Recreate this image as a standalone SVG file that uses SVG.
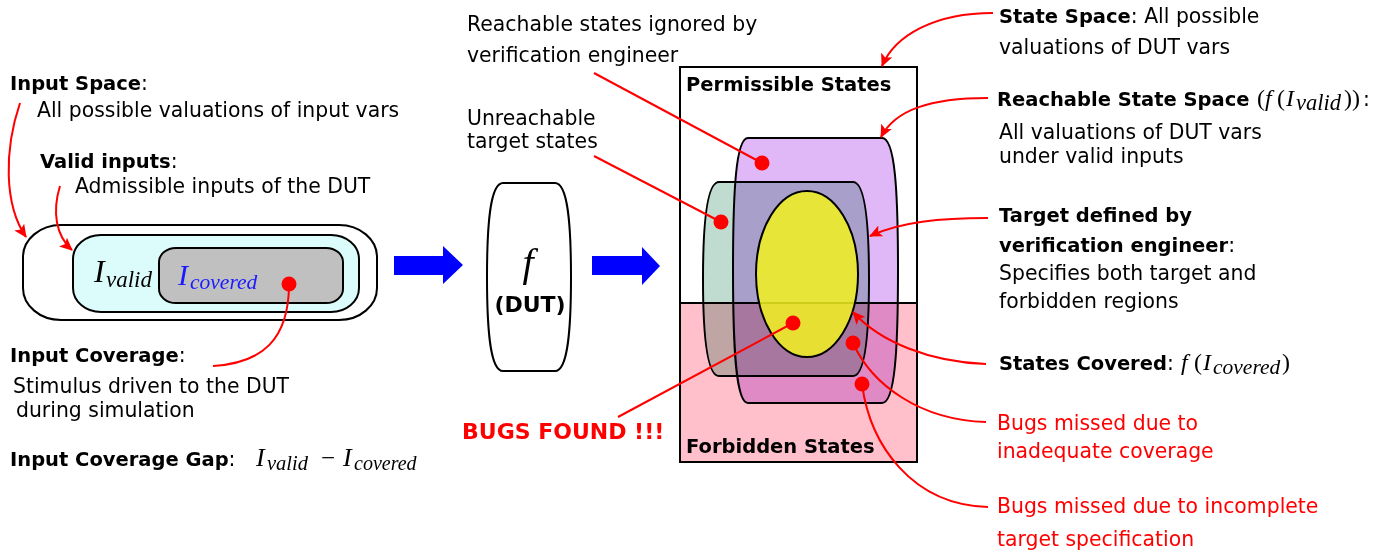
<svg xmlns="http://www.w3.org/2000/svg" width="1393" height="554" viewBox="0 0 1393 554">
<style>
text{font-family:"DejaVu Sans","Liberation Sans",sans-serif;font-size:20.4px;fill:#000}
.b{font-weight:bold;font-size:19.5px}
.red{fill:#ff0000}
.m{font-family:"Liberation Serif","DejaVu Serif",serif;font-style:italic}
.up{font-style:normal}
.ln{fill:none;stroke:#ff0000;stroke-width:2}
.dot{fill:#ff0000}
.blk{stroke:#000;stroke-width:2}
.mul{mix-blend-mode:multiply}
</style>
<defs>
<marker id="ah" markerUnits="userSpaceOnUse" markerWidth="14" markerHeight="12" refX="12" refY="6" orient="auto">
<path d="M0,0 L13,6 L0,12 L3,6 Z" fill="#ff0000"/>
</marker>
</defs>
<rect width="1393" height="554" fill="#fff"/>

<g id="input-space-node">
<rect x="23" y="225" width="354" height="95" rx="38" ry="32" fill="#fff" class="blk"/>
<rect x="73" y="235" width="286" height="77" rx="28" ry="24" fill="#dcfcfc" class="blk"/>
<rect x="159" y="248" width="184" height="55" rx="17" ry="14" fill="#c0c0c0" class="blk"/>
<text class="m"><tspan x="94" y="282" style="font-size:32px">I</tspan><tspan x="106" y="287" style="font-size:23px">valid</tspan></text>
<text class="m" style="fill:#1a1aff"><tspan x="178" y="285" style="font-size:30px">I</tspan><tspan x="190" y="289" style="font-size:21.5px">covered</tspan></text>
</g>

<g id="input-labels">
<text x="10" y="90"><tspan class="b">Input Space</tspan>:</text>
<text x="37" y="117">All possible valuations of input vars</text>
<text x="40" y="168"><tspan class="b">Valid inputs</tspan>:</text>
<text x="75" y="193">Admissible inputs of the DUT</text>
<text x="10" y="362"><tspan class="b">Input Coverage</tspan>:</text>
<text x="13" y="393">Stimulus driven to the DUT</text>
<text x="16" y="417">during simulation</text>
<text x="10" y="466"><tspan class="b">Input Coverage Gap</tspan>:</text>
<text class="m"><tspan x="256" y="466" style="font-size:26px">I</tspan><tspan x="267" y="470" style="font-size:20.5px">valid</tspan><tspan x="321" y="466" class="up" style="font-size:25px">−</tspan><tspan x="343" y="466" style="font-size:26px">I</tspan><tspan x="354" y="470" style="font-size:20px">covered</tspan></text>
</g>

<g id="blue-arrow-1">
<polygon points="394,256 443,256 443,246 463,265 443,284 443,275 394,275" fill="#0000ff"/>
</g>

<g id="dut-node">
<path d="M503,183 H555 C568,183 571,225 571,277 C571,329 568,371 555,371 H503 C490,371 487,329 487,277 C487,225 490,183 503,183 Z" fill="#fff" class="blk"/>
<text class="m" x="528" y="276" text-anchor="middle" style="font-size:40px">f</text>
<text x="530" y="312" text-anchor="middle" style="font-weight:bold;font-size:22px">(DUT)</text>
</g>

<g id="blue-arrow-2">
<polygon points="592,256 642,256 642,247 660,266 642,285 642,275 592,275" fill="#0000ff"/>
</g>

<g id="state-space-node">
<rect x="680" y="67" width="237" height="236" fill="#fff"/>
<rect x="680" y="303" width="237" height="159" fill="#ffc0cb"/>
<line x1="680" y1="303" x2="917" y2="303" class="blk"/>
<text x="686" y="91" class="b">Permissible States</text>
<text x="686" y="453" class="b">Forbidden States</text>
</g>

<g id="target-node">
<path class="mul" d="M719,182 H853 C866,182 869,230 869,279 C869,328 866,376 853,376 H719 C706,376 703,328 703,279 C703,230 706,182 719,182 Z" fill="#c0dcd0" stroke="#000" stroke-width="2"/>
</g>

<g id="reachable-node">
<path class="mul" d="M748,138 H882 C895,138 898,190 898,270 C898,350 895,403 882,403 H748 C736,403 733,350 733,270 C733,190 736,138 748,138 Z" fill="#e0b8f8" stroke="#000" stroke-width="2"/>
</g>

<g id="covered-node">
<ellipse cx="807" cy="274" rx="51" ry="83" fill="#f2f21e" fill-opacity="0.85" stroke="#000" stroke-width="2"/>
</g>

<g id="state-space-border">
<rect x="680" y="67" width="237" height="395" fill="none" class="blk"/>
</g>

<g id="connectors">
<path class="ln" d="M20,103 C4,150 4,205 26,237" marker-end="url(#ah)"/>
<path class="ln" d="M60,186 C52,212 56,236 72,250" marker-end="url(#ah)"/>
<path class="ln" d="M289,284 C289,340 262,363 213,366"/>
<path class="ln" d="M594,73 L762,163"/>
<path class="ln" d="M594,156 L721,222"/>
<path class="ln" d="M618,417 L793,323"/>
<path class="ln" d="M993,13 C935,13 895,35 882,66" marker-end="url(#ah)"/>
<path class="ln" d="M988,98 C930,98 895,110 881,137" marker-end="url(#ah)"/>
<path class="ln" d="M988,218 C940,218 900,222 870,236" marker-end="url(#ah)"/>
<path class="ln" d="M986,364 C930,362 880,342 853,312" marker-end="url(#ah)"/>
<path class="ln" d="M853,343 C872,385 920,420 986,422"/>
<path class="ln" d="M862,384 C870,445 912,505 988,507"/>
<circle class="dot" cx="289" cy="284" r="7.5"/>
<circle class="dot" cx="762" cy="163" r="7.5"/>
<circle class="dot" cx="721" cy="222" r="7.5"/>
<circle class="dot" cx="793" cy="323" r="7.5"/>
<circle class="dot" cx="853" cy="343" r="7.5"/>
<circle class="dot" cx="862" cy="384" r="7.5"/>
</g>

<g id="state-labels">
<text x="467" y="31">Reachable states ignored by</text>
<text x="467" y="62">verification engineer</text>
<text x="467" y="125">Unreachable</text>
<text x="467" y="148">target states</text>
<text x="462" y="439" class="red" style="font-weight:bold;font-size:22px">BUGS FOUND !!!</text>

<text x="999" y="23"><tspan class="b">State Space</tspan>:  All possible</text>
<text x="999" y="54">valuations of DUT vars</text>
<text x="997" y="106"><tspan class="b">Reachable State Space</tspan></text>
<text class="m"><tspan x="1257" y="106" class="up" style="font-size:24px">(</tspan><tspan x="1265" y="106" style="font-size:24px">f</tspan><tspan x="1277" y="106" class="up" style="font-size:24px">(</tspan><tspan x="1286" y="106" style="font-size:24px">I</tspan><tspan x="1296" y="110" style="font-size:22.5px">valid</tspan><tspan x="1344" y="106" class="up" style="font-size:24px">))</tspan></text>
<text x="1363" y="106">:</text>
<text x="999" y="139">All valuations of DUT vars</text>
<text x="999" y="163">under valid inputs</text>

<text x="999" y="222" class="b">Target defined by</text>
<text x="999" y="252"><tspan class="b">verification engineer</tspan>:</text>
<text x="999" y="280">Specifies both target and</text>
<text x="999" y="308">forbidden regions</text>

<text x="999" y="370"><tspan class="b">States Covered</tspan>:</text>
<text class="m"><tspan x="1181" y="370" style="font-size:24px">f</tspan><tspan x="1194" y="370" class="up" style="font-size:24px">(</tspan><tspan x="1203" y="370" style="font-size:24px">I</tspan><tspan x="1213" y="374" style="font-size:21.5px">covered</tspan><tspan x="1282" y="370" class="up" style="font-size:24px">)</tspan></text>

<text x="997" y="430" class="red">Bugs missed due to</text>
<text x="997" y="458" class="red">inadequate coverage</text>
<text x="997" y="513" class="red">Bugs missed due to incomplete</text>
<text x="997" y="546" class="red">target specification</text>
</g>
</svg>
